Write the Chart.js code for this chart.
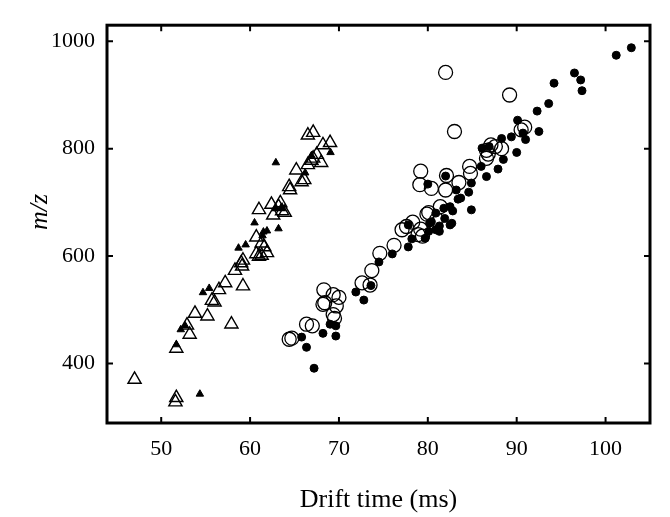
<!DOCTYPE html>
<html>
<head>
<meta charset="utf-8">
<script src="https://cdn.jsdelivr.net/npm/chart.js@4.4.1/dist/chart.umd.min.js"></script>
<style>
  html, body { margin: 0; padding: 0; background: #fff; }
  canvas { display: block; }
</style>
</head>
<body>
<canvas id="c" width="670" height="517"></canvas>
<script>
// ---- Data ----
const xTicks = [50, 60, 70, 80, 90, 100];
const yTicks = [400, 600, 800, 1000];
const xRange = [43.9, 105];
const yRange = [289, 1030];

// Open triangles (drift time ms, m/z)
const openTriangles = [
  [47.0, 370], [51.7, 336], [51.6, 328], [51.7, 428], [53.2, 454], [52.9, 471],
  [53.8, 493], [55.2, 488], [55.7, 517], [56.0, 514], [56.5, 537], [57.2, 550],
  [57.9, 473], [59.2, 544], [58.3, 573], [59.0, 587], [59.1, 581], [59.2, 592],
  [60.7, 604], [61.0, 599], [61.3, 601], [61.9, 606], [60.7, 635], [61.3, 624],
  [61.6, 617], [61.0, 686], [62.4, 696], [62.6, 676], [63.2, 692], [63.4, 699],
  [63.6, 684], [63.9, 681], [64.5, 723], [64.4, 729], [65.2, 760], [65.8, 738],
  [66.1, 742], [66.5, 825], [67.1, 830], [66.5, 770], [67.1, 782], [67.5, 789],
  [68.0, 774], [68.2, 807], [69.0, 811], [66.9, 778]
];

// Filled triangles
const filledTriangles = [
  [54.35, 343], [51.7, 435], [52.2, 463], [52.7, 470], [54.7, 532], [55.4, 540],
  [58.7, 615], [59.5, 621], [60.5, 662], [61.4, 638], [61.9, 647], [63.2, 651],
  [62.9, 689], [63.5, 690], [62.9, 774], [66.2, 755], [69.05, 793], [61.5, 645],
  [66.9, 787]
];

// Open circles
const openCircles = [
  [82.0, 942], [89.2, 900], [83.0, 832], [64.4, 445], [64.7, 447], [66.35, 473],
  [67.0, 470], [68.3, 537], [68.2, 510], [68.4, 513], [69.35, 528], [70.0, 523],
  [69.7, 507], [69.35, 491], [69.5, 484], [72.6, 550], [73.5, 546], [73.7, 573],
  [74.6, 605], [76.2, 620], [77.1, 649], [77.6, 655], [78.3, 663], [78.9, 640],
  [79.2, 650], [79.9, 678], [80.1, 681], [79.2, 758], [79.1, 733], [80.4, 726],
  [82.1, 750], [82.0, 723], [83.5, 737], [81.4, 692], [84.7, 767], [84.8, 754],
  [86.6, 797], [86.6, 782], [86.8, 790], [87.1, 807], [87.6, 804], [88.3, 800],
  [90.9, 840], [90.5, 835], [79.4, 637], [81.0, 668]
];

// Filled circles
const filledCircles = [
  [67.2, 391], [65.8, 449], [66.35, 430], [68.2, 456], [69.65, 451], [69.65, 470],
  [69.0, 473], [71.9, 533], [72.8, 518], [73.6, 545], [74.5, 589], [76.0, 604],
  [77.8, 617], [77.8, 658], [78.2, 632], [79.7, 633], [80.0, 734], [80.4, 664],
  [80.1, 646], [80.9, 649], [81.3, 646], [80.9, 680], [81.8, 689], [81.3, 656],
  [82.5, 658], [82.8, 684], [82.0, 749], [83.2, 723], [83.4, 706], [83.7, 708],
  [84.6, 719], [84.9, 736], [84.9, 686], [86.0, 767], [86.6, 748], [86.1, 801],
  [86.9, 804], [87.9, 762], [88.5, 780], [88.3, 819], [89.4, 822], [90.0, 793],
  [90.1, 853], [90.7, 829], [91.0, 817], [92.3, 870], [92.5, 832], [93.6, 884],
  [94.2, 922], [96.5, 941], [97.2, 928], [97.35, 908], [101.2, 974], [102.9, 988],
  [80.2, 661], [81.9, 670], [82.5, 692], [82.7, 661]
];

const xTitle = 'Drift time (ms)';
const yTitle = 'm/z';

// ---- Chart ----
const toPts = arr => arr.map(([x, y]) => ({ x, y }));
const SERIF = "'Liberation Serif', 'Times New Roman', serif";

const framePlugin = {
  id: 'frame',
  afterDatasetsDraw(chart) {
    const { ctx, chartArea: { left, top, right, bottom } } = chart;
    const xs = chart.scales.x, ys = chart.scales.y;
    ctx.save();
    ctx.strokeStyle = '#000';
    ctx.lineWidth = 2;
    const tl = 6;
    ctx.beginPath();
    xTicks.forEach(v => {
      const px = xs.getPixelForValue(v);
      ctx.moveTo(px, bottom); ctx.lineTo(px, bottom - tl);
      ctx.moveTo(px, top); ctx.lineTo(px, top + tl);
    });
    yTicks.forEach(v => {
      const py = ys.getPixelForValue(v);
      ctx.moveTo(left, py); ctx.lineTo(left + tl, py);
      ctx.moveTo(right, py); ctx.lineTo(right - tl, py);
    });
    ctx.stroke();
    ctx.lineWidth = 3;
    ctx.strokeRect(left, top, right - left, bottom - top);
    // y axis title
    ctx.fillStyle = '#000';
    ctx.font = 'italic 26px ' + SERIF;
    ctx.textAlign = 'center';
    ctx.textBaseline = 'middle';
    ctx.translate(40, 212);
    ctx.rotate(-Math.PI / 2);
    ctx.fillText(yTitle, 0, 0);
    ctx.restore();
  }
};

new Chart(document.getElementById('c'), {
  type: 'scatter',
  data: {
    datasets: [
      {
        label: 'filled circles', data: toPts(filledCircles), order: 1,
        pointStyle: 'circle', pointRadius: 4, borderWidth: 1,
        borderColor: '#000', backgroundColor: '#000'
      },
      {
        label: 'filled triangles', data: toPts(filledTriangles), order: 1,
        pointStyle: 'triangle', pointRadius: 4.3, borderWidth: 1,
        borderColor: '#000', backgroundColor: '#000'
      },
      {
        label: 'open circles', data: toPts(openCircles), order: 2,
        pointStyle: 'circle', pointRadius: 7, borderWidth: 1.3,
        borderColor: '#000', backgroundColor: 'rgba(0,0,0,0)'
      },
      {
        label: 'open triangles', data: toPts(openTriangles), order: 2,
        pointStyle: 'triangle', pointRadius: 7.6, borderWidth: 1.4,
        borderColor: '#000', backgroundColor: 'rgba(0,0,0,0)'
      }
    ]
  },
  options: {
    responsive: false,
    animation: false,
    devicePixelRatio: 1,
    events: [],
    layout: { padding: { top: 25, right: 20, left: 0, bottom: 0 } },
    plugins: { legend: { display: false }, tooltip: { enabled: false } },
    scales: {
      x: {
        type: 'linear', position: 'bottom',
        min: xRange[0], max: xRange[1],
        afterBuildTicks: s => { s.ticks = xTicks.map(v => ({ value: v })); },
        afterFit: s => { s.height = 94; },
        grid: { display: false, drawTicks: false },
        border: { display: false },
        ticks: {
          color: '#000', padding: 13, maxRotation: 0, autoSkip: false,
          font: { family: SERIF, size: 22 },
          callback: v => String(v)
        },
        title: {
          display: true, text: xTitle, color: '#000',
          font: { family: SERIF, size: 26 }, padding: { top: 0, bottom: 1 }
        }
      },
      y: {
        type: 'linear', position: 'left',
        min: yRange[0], max: yRange[1],
        afterBuildTicks: s => { s.ticks = yTicks.map(v => ({ value: v })); },
        afterFit: s => { s.width = 107; },
        grid: { display: false, drawTicks: false },
        border: { display: false },
        ticks: {
          color: '#000', padding: 12, autoSkip: false,
          font: { family: SERIF, size: 22 },
          callback: v => String(v)
        }
      }
    }
  },
  plugins: [framePlugin]
});
</script>
</body>
</html>
